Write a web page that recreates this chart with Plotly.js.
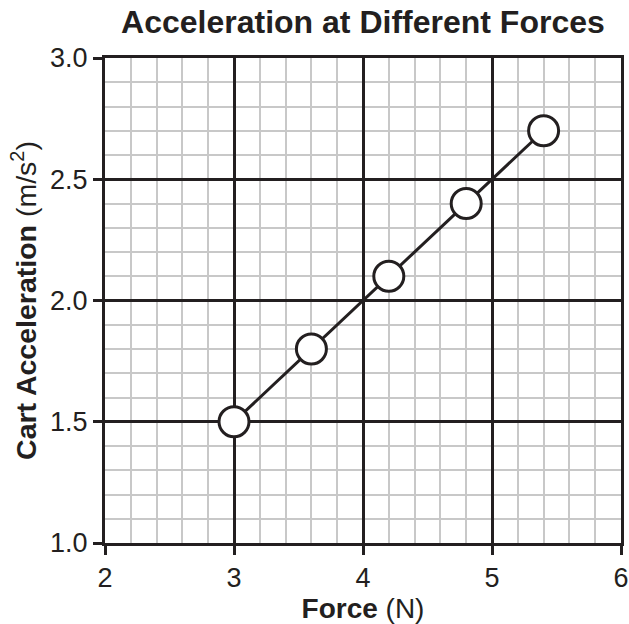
<!DOCTYPE html>
<html>
<head>
<meta charset="utf-8">
<script src="https://cdn.plot.ly/plotly-3.0.1.min.js"></script>
<style>html,body{margin:0;padding:0;background:#fff;}#chart{width:629px;height:624px;}</style>
</head>
<body>
<div id="chart"></div>
<script>
const force = [3, 3.6, 4.2, 4.8, 5.4];
const acceleration = [1.5, 1.8, 2.1, 2.4, 2.7];
const xTicks = [2, 3, 4, 5, 6];
const yTicks = [1.0, 1.5, 2.0, 2.5, 3.0];
const yTickLabels = ['1.0', '1.5', '2.0', '2.5', '3.0'];

const ink = '#231f20';
const fontFam = '"Liberation Sans", Arial, Helvetica, sans-serif';

const trace = {
  x: force, y: acceleration, type: 'scatter', mode: 'lines+markers',
  line: {color: ink, width: 3},
  marker: {symbol: 'circle', size: 30, color: '#ffffff', line: {color: ink, width: 3}},
  hoverinfo: 'skip', cliponaxis: false
};

const layout = {
  width: 629, height: 624,
  margin: {l: 105, r: 8, t: 58, b: 81},
  paper_bgcolor: '#ffffff', plot_bgcolor: '#ffffff',
  showlegend: false,
  font: {family: fontFam, color: ink},
  title: {
    text: '<b>Acceleration at Different Forces</b>',
    font: {family: fontFam, size: 32, color: ink},
    x: 0.577, xanchor: 'center', y: 0.983, yanchor: 'top'
  },
  xaxis: {
    range: [2, 6], tickvals: xTicks, ticktext: xTicks.map(String),
    ticks: 'outside', ticklen: 9, tickwidth: 3, tickcolor: ink,
    tickfont: {family: fontFam, size: 27, color: ink},
    showline: true, linecolor: ink, linewidth: 3, mirror: true,
    showgrid: true, gridcolor: ink, gridwidth: 3,
    zeroline: false,
    minor: {dtick: 0.2, tick0: 2, showgrid: true, gridcolor: '#c8c8c8', gridwidth: 2, ticks: ''},
    title: {text: '<b>Force</b> (N)', font: {family: fontFam, size: 28, color: ink}, standoff: 4}
  },
  yaxis: {
    range: [1, 3], tickvals: yTicks, ticktext: yTickLabels,
    ticks: 'outside', ticklen: 9, tickwidth: 3, tickcolor: ink,
    tickfont: {family: fontFam, size: 27, color: ink},
    showline: true, linecolor: ink, linewidth: 3, mirror: true,
    showgrid: true, gridcolor: ink, gridwidth: 3,
    zeroline: false,
    minor: {dtick: 0.1, tick0: 1, showgrid: true, gridcolor: '#c8c8c8', gridwidth: 2, ticks: ''},
    title: {text: '<b>Cart Acceleration</b> (m/s<sup>2</sup>)', font: {family: fontFam, size: 28.5, color: ink}, standoff: 6}
  }
};

Plotly.newPlot('chart', [trace], layout, {displayModeBar: false, staticPlot: true});
</script>
</body>
</html>
